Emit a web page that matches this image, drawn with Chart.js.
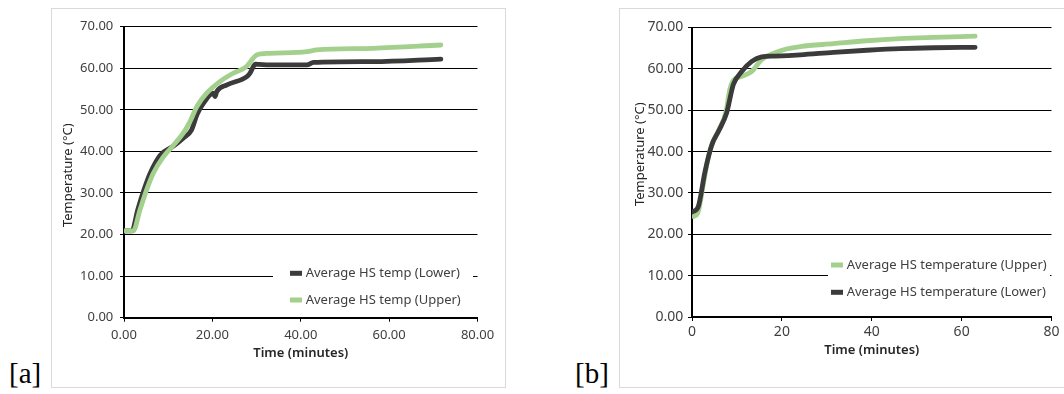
<!DOCTYPE html>
<html>
<head>
<meta charset="utf-8">
<title>Average HS temperature</title>
<script src="https://cdn.jsdelivr.net/npm/chart.js@4.4.1/dist/chart.umd.min.js"></script>
<style>
  html, body { margin: 0; padding: 0; background: #fff; }
  body { width: 1064px; height: 394px; position: relative; overflow: hidden; }
  .panel { position: absolute; top: 8px; border: 1px solid #d9d9d9; background: #fff; }
  #panelA { left: 51px; width: 453px; height: 378px; }
  #panelB { left: 619px; width: 460px; height: 378px; }
  .panel canvas { display: block; }
  .tag { position: absolute; top: 359px; font-family: "Liberation Serif", "DejaVu Serif", serif; font-size: 29px; line-height: 1; color: #000; }
  #tagA { left: 9px; }
  #tagB { left: 575px; }
</style>
</head>
<body>
<div class="panel" id="panelA"><canvas id="chartA" width="453" height="378"></canvas></div>
<div class="panel" id="panelB"><canvas id="chartB" width="460" height="378"></canvas></div>
<div class="tag" id="tagA">[a]</div>
<div class="tag" id="tagB">[b]</div>
<script>
// ---- [a] heat sink temperatures (minutes, °C) ----
const timeLowerA = [0, 1.8, 3.1, 4.5, 5.9, 8.2, 11.2, 13.4, 15.3, 16.5, 18, 20.2, 20.6, 21.0, 23.3, 27.8, 28.5, 29.3, 29.7, 33, 41.4, 42.9, 56.4, 71.7];
const tempLowerA = [20.9, 20.9, 25.9, 30.7, 34.7, 39.1, 41.3, 43.2, 45.2, 48.8, 51.6, 54.0, 53.2, 54.4, 56.0, 58.0, 58.8, 60.5, 61.0, 60.8, 60.8, 61.4, 61.6, 62.2];
const timeUpperA = [0, 2.1, 3.6, 5.1, 6.6, 8.9, 11.2, 13.4, 14.9, 16.5, 18.7, 21.7, 24.7, 27.8, 28.9, 30, 33, 41.4, 43.6, 56.4, 71.7];
const tempUpperA = [20.9, 20.9, 25.9, 30.7, 34.7, 38.7, 41.5, 44.4, 47.1, 50.8, 54.0, 56.8, 58.8, 60.5, 62.0, 63.2, 63.6, 64.0, 64.4, 64.8, 65.6];

// ---- [b] heat sink temperatures (minutes, °C) ----
const timeUpperB = [0.3, 1.3, 2.5, 3.6, 4.6, 6, 7.6, 8.4, 9.2, 11.1, 13.3, 15.5, 18.5, 21, 24.1, 31.5, 38.9, 46.3, 53.8, 63];
const tempUpperB = [24.3, 25.2, 32.0, 38.5, 42.2, 45.3, 49.8, 55.0, 57.2, 58.2, 59.4, 62.2, 63.9, 64.8, 65.4, 66.1, 66.8, 67.3, 67.6, 67.9];
const timeLowerB = [0.3, 1.4, 2.9, 4.4, 5.9, 7.7, 9.2, 11.1, 13.3, 15.5, 18.5, 24.1, 31.5, 38.9, 46.3, 53.8, 63];
const tempLowerB = [25.5, 26.7, 35.2, 41.6, 44.9, 49.3, 56.2, 59.4, 61.8, 62.9, 63.1, 63.4, 64.0, 64.5, 64.9, 65.1, 65.2];

const yTicks = [0, 10, 20, 30, 40, 50, 60, 70];
const xTicks = [0, 20, 40, 60, 80];

const GREEN = '#a3d08c';
const DARK = '#3b3b3b';
const TEXT = '#404040';

Chart.defaults.font.family = "'Noto Sans', sans-serif";
Chart.defaults.color = TEXT;

function toPoints(xs, ys) {
  return xs.map((x, i) => ({ x: x, y: ys[i] }));
}

// legend box drawn inside the plot, over the gridlines
const insetLegend = {
  id: 'insetLegend',
  afterDraw(chart, args, opts) {
    const ctx = chart.ctx;
    ctx.save();
    ctx.fillStyle = '#fff';
    ctx.fillRect(opts.box[0], opts.box[1], opts.box[2], opts.box[3]);
    ctx.font = opts.fontSize + "px 'Noto Sans', sans-serif";
    ctx.textBaseline = 'middle';
    ctx.textAlign = 'left';
    opts.order.forEach((idx, row) => {
      const ds = chart.data.datasets[idx];
      const y = opts.rowY[row];
      ctx.fillStyle = ds.borderColor;
      ctx.fillRect(opts.swatchX, y - 2.5, 12, 5);
      ctx.fillStyle = TEXT;
      ctx.fillText(ds.label, opts.textX, y);
    });
    ctx.restore();
  }
};

// rotated y-axis title, placed relative to the plot centre
const sideTitle = {
  id: 'sideTitle',
  afterDraw(chart, args, opts) {
    const ctx = chart.ctx;
    const area = chart.chartArea;
    ctx.save();
    ctx.translate(opts.x, (area.top + area.bottom) / 2 + opts.dy);
    ctx.rotate(-Math.PI / 2);
    ctx.font = opts.fontSize + "px 'Noto Sans', sans-serif";
    ctx.fillStyle = '#262626';
    ctx.textAlign = 'center';
    ctx.textBaseline = 'middle';
    ctx.fillText(opts.text, 0, 0);
    ctx.restore();
  }
};

function lineDataset(label, xs, ys, color, order) {
  return {
    label: label,
    data: toPoints(xs, ys),
    borderColor: color,
    backgroundColor: color,
    borderWidth: 4.8,
    borderCapStyle: 'round',
    borderJoinStyle: 'round',
    cubicInterpolationMode: 'monotone',
    pointRadius: 0,
    fill: false,
    order: order
  };
}

function makeChart(canvasId, datasets, s) {
  return new Chart(document.getElementById(canvasId), {
    type: 'line',
    data: { datasets: datasets },
    options: {
      responsive: false,
      animation: false,
      events: [],
      layout: { padding: { left: 0, top: s.top, right: s.right, bottom: 0 } },
      scales: {
        x: {
          type: 'linear',
          min: 0,
          max: 80,
          afterFit: (scale) => { scale.height = s.xHeight; },
          afterBuildTicks: (scale) => { scale.ticks = xTicks.map(v => ({ value: v })); },
          ticks: {
            padding: s.xPad,
            font: { size: s.tickSize },
            color: TEXT,
            maxRotation: 0,
            callback: s.xFormat
          },
          grid: { drawOnChartArea: false, drawTicks: true, tickLength: 4, color: '#000', lineWidth: 1 },
          border: { color: '#000', width: 2 },
          title: {
            display: true,
            text: 'Time (minutes)',
            color: '#262626',
            font: { size: 13, weight: '600' },
            padding: { top: 0, bottom: s.titlePad }
          }
        },
        y: {
          min: 0,
          max: 70,
          afterFit: (scale) => { scale.width = s.yWidth; },
          afterBuildTicks: (scale) => { scale.ticks = yTicks.map(v => ({ value: v })); },
          ticks: {
            padding: s.yPad,
            font: { size: s.tickSize },
            color: TEXT,
            callback: (v) => v.toFixed(2)
          },
          grid: { color: '#000', lineWidth: 1, drawTicks: true, tickLength: 4 },
          border: { color: '#000', width: 2 }
        }
      },
      plugins: {
        legend: { display: false },
        tooltip: { enabled: false },
        insetLegend: s.legend,
        sideTitle: s.yTitle
      }
    },
    plugins: [insetLegend, sideTitle]
  });
}

makeChart('chartA', [
  lineDataset('Average HS temp (Lower)', timeLowerA, tempLowerA, DARK, 2),
  lineDataset('Average HS temp (Upper)', timeUpperA, tempUpperA, GREEN, 1)
], {
  top: 17.7, right: 27.5, xHeight: 69.3, yWidth: 72,
  xPad: 5.5, yPad: 6.7, titlePad: 26, tickSize: 13,
  xFormat: (v) => v.toFixed(2),
  legend: { box: [221, 244, 200, 60], rowY: [264.3, 291], swatchX: 238, textX: 253.7, fontSize: 13, order: [0, 1] },
  yTitle: { text: 'Temperature (°C)', x: 16.7, dy: 3, fontSize: 13 }
});

makeChart('chartB', [
  lineDataset('Average HS temperature (Upper)', timeUpperB, tempUpperB, GREEN, 2),
  lineDataset('Average HS temperature (Lower)', timeLowerB, tempLowerB, DARK, 1)
], {
  top: 18.5, right: 28.5, xHeight: 70, yWidth: 72,
  xPad: 2.3, yPad: 4.7, titlePad: 28.7, tickSize: 14,
  xFormat: (v) => String(v),
  legend: { box: [208, 238, 222, 62], rowY: [256, 283.3], swatchX: 211, textX: 226.7, fontSize: 13, order: [0, 1] },
  yTitle: { text: 'Temperature (°C)', x: 20, dy: -18, fontSize: 13 }
});
</script>
</body>
</html>
